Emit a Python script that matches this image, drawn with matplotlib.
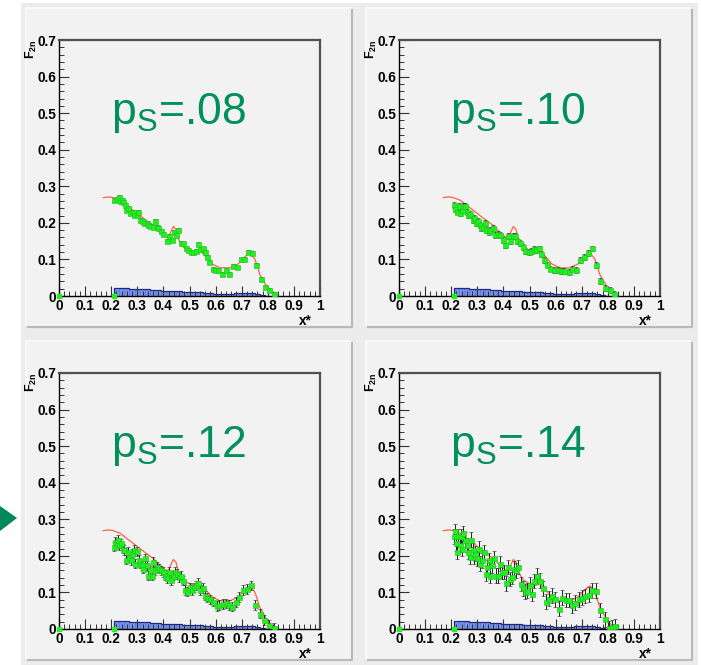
import numpy as np
import matplotlib.pyplot as plt
from matplotlib.patches import Rectangle, Polygon
from matplotlib.ticker import MultipleLocator, FuncFormatter

plt.rcParams['font.family'] = ['Liberation Sans', 'DejaVu Sans']
plt.rcParams['mathtext.fontset'] = 'custom'
plt.rcParams['mathtext.rm'] = 'Liberation Sans'
plt.rcParams['mathtext.bf'] = 'Liberation Sans:bold'
plt.rcParams['mathtext.it'] = 'Liberation Sans:italic'

# Панели: значения p_s
labels = [".08", ".10", ".12", ".14"]

# Модельная кривая (одна для всех панелей)
model_x = [0.17, 0.19, 0.208, 0.234, 0.259, 0.285, 0.31, 0.336, 0.361, 0.387, 0.41, 0.42,
           0.438, 0.448, 0.457, 0.476, 0.502, 0.527, 0.54, 0.56, 0.585, 0.617, 0.655, 0.687,
           0.719, 0.732, 0.751, 0.77, 0.796, 0.821, 0.83]
model_y = [0.269, 0.271, 0.269, 0.262, 0.248, 0.234, 0.22, 0.206, 0.193, 0.174, 0.16, 0.162,
           0.19, 0.183, 0.156, 0.134, 0.123, 0.12, 0.125, 0.109, 0.088, 0.077, 0.077, 0.088,
           0.112, 0.118, 0.1, 0.058, 0.026, 0.005, 0.0]

# Фоновая гистограмма
hist_vals = [0.023, 0.022, 0.021, 0.020, 0.019, 0.019, 0.018, 0.017, 0.016, 0.015,
             0.014, 0.014, 0.013, 0.012, 0.011, 0.010, 0.010, 0.009, 0.007, 0.006,
             0.006, 0.005, 0.006, 0.007, 0.008, 0.008, 0.008, 0.005, 0.002, 0.001]
hist_start, hist_stop = 0.21, 0.81

# Данные, ps=.08
x1 = [0.212, 0.221, 0.23, 0.234, 0.24, 0.246, 0.253, 0.257, 0.266, 0.272, 0.282, 0.289, 0.298,
      0.304, 0.31, 0.317, 0.326, 0.336, 0.342, 0.349, 0.359, 0.368, 0.374, 0.381, 0.391, 0.4,
      0.413, 0.423, 0.432, 0.441, 0.448, 0.457, 0.467, 0.476, 0.485, 0.496, 0.504, 0.515, 0.524,
      0.531, 0.54, 0.55, 0.56, 0.568, 0.576, 0.589, 0.598, 0.61, 0.623, 0.64, 0.651, 0.665,
      0.681, 0.697, 0.709, 0.725, 0.74, 0.755, 0.773, 0.789, 0.806, 0.824]
y1 = [0.263, 0.265, 0.27, 0.259, 0.262, 0.256, 0.25, 0.236, 0.24, 0.227, 0.231, 0.222, 0.224,
      0.231, 0.208, 0.204, 0.199, 0.199, 0.194, 0.192, 0.19, 0.205, 0.19, 0.185, 0.178, 0.17,
      0.151, 0.164, 0.153, 0.176, 0.167, 0.181, 0.146, 0.144, 0.13, 0.126, 0.121, 0.119, 0.123,
      0.142, 0.128, 0.13, 0.121, 0.107, 0.094, 0.075, 0.072, 0.072, 0.061, 0.072, 0.061, 0.082,
      0.078, 0.1, 0.101, 0.121, 0.118, 0.084, 0.046, 0.024, 0.016, 0.005]

# Данные, ps=.10
x2 = [0.21, 0.214, 0.222, 0.228, 0.234, 0.24, 0.247, 0.254, 0.26, 0.266, 0.273, 0.282, 0.288,
      0.296, 0.302, 0.309, 0.314, 0.321, 0.329, 0.334, 0.343, 0.35, 0.36, 0.369, 0.378, 0.388,
      0.398, 0.407, 0.416, 0.424, 0.435, 0.446, 0.452, 0.462, 0.474, 0.484, 0.497, 0.506, 0.516,
      0.526, 0.538, 0.545, 0.554, 0.567, 0.58, 0.595, 0.608, 0.622, 0.634, 0.65, 0.663, 0.68,
      0.695, 0.708, 0.725, 0.74, 0.755, 0.772, 0.789, 0.808, 0.823]
y2 = [0.25, 0.238, 0.231, 0.245, 0.227, 0.236, 0.245, 0.247, 0.231, 0.222, 0.225, 0.208, 0.213,
      0.199, 0.204, 0.194, 0.185, 0.19, 0.199, 0.181, 0.176, 0.181, 0.185, 0.167, 0.17, 0.167,
      0.153, 0.139, 0.165, 0.15, 0.165, 0.164, 0.15, 0.144, 0.133, 0.124, 0.121, 0.124, 0.128,
      0.126, 0.13, 0.114, 0.098, 0.086, 0.075, 0.071, 0.072, 0.069, 0.068, 0.066, 0.075, 0.071,
      0.098, 0.107, 0.117, 0.13, 0.084, 0.041, 0.023, 0.017, 0.006]

# Данные, ps=.12
x3 = [0.211, 0.216, 0.221, 0.227, 0.231, 0.238, 0.244, 0.25, 0.257, 0.263, 0.269, 0.275, 0.281,
      0.287, 0.291, 0.298, 0.305, 0.31, 0.317, 0.323, 0.329, 0.336, 0.341, 0.349, 0.356, 0.361,
      0.368, 0.374, 0.382, 0.39, 0.397, 0.405, 0.413, 0.42, 0.428, 0.436, 0.443, 0.451, 0.458,
      0.467, 0.476, 0.483, 0.492, 0.502, 0.51, 0.517, 0.525, 0.531, 0.54, 0.55, 0.559, 0.568,
      0.579, 0.591, 0.604, 0.614, 0.627, 0.64, 0.653, 0.664, 0.677, 0.691, 0.704, 0.719, 0.736,
      0.752, 0.77, 0.787, 0.805, 0.824]
y3 = [0.225, 0.239, 0.234, 0.244, 0.23, 0.234, 0.22, 0.216, 0.19, 0.211, 0.197, 0.188, 0.206,
      0.216, 0.179, 0.212, 0.188, 0.179, 0.174, 0.165, 0.193, 0.174, 0.146, 0.16, 0.146, 0.183,
      0.16, 0.17, 0.165, 0.16, 0.156, 0.146, 0.14, 0.156, 0.134, 0.146, 0.156, 0.151, 0.142,
      0.146, 0.132, 0.106, 0.102, 0.114, 0.106, 0.114, 0.119, 0.126, 0.107, 0.112, 0.091, 0.086,
      0.081, 0.075, 0.063, 0.066, 0.069, 0.07, 0.066, 0.061, 0.074, 0.088, 0.106, 0.109, 0.119,
      0.066, 0.042, 0.025, 0.012, 0.003]

# Данные, ps=.14
x4 = [0.21, 0.214, 0.218, 0.223, 0.227, 0.232, 0.237, 0.242, 0.247, 0.254, 0.26, 0.265, 0.271,
      0.277, 0.282, 0.287, 0.293, 0.298, 0.305, 0.311, 0.318, 0.324, 0.332, 0.338, 0.344, 0.35,
      0.357, 0.365, 0.373, 0.38, 0.388, 0.396, 0.403, 0.41, 0.417, 0.426, 0.434, 0.442, 0.449,
      0.457, 0.466, 0.474, 0.483, 0.49, 0.501, 0.51, 0.519, 0.529, 0.542, 0.552, 0.562, 0.574,
      0.586, 0.598, 0.612, 0.624, 0.638, 0.65, 0.663, 0.676, 0.689, 0.702, 0.714, 0.727, 0.74,
      0.755, 0.772, 0.789, 0.804, 0.817, 0.826]
y4 = [0.253, 0.267, 0.234, 0.211, 0.253, 0.23, 0.253, 0.22, 0.262, 0.244, 0.23, 0.211, 0.197,
      0.244, 0.216, 0.197, 0.206, 0.193, 0.22, 0.179, 0.188, 0.211, 0.151, 0.169, 0.188, 0.146,
      0.174, 0.193, 0.146, 0.146, 0.179, 0.156, 0.156, 0.125, 0.17, 0.137, 0.142, 0.165, 0.16,
      0.17, 0.123, 0.111, 0.102, 0.105, 0.121, 0.097, 0.131, 0.146, 0.132, 0.111, 0.075, 0.083,
      0.091, 0.081, 0.056, 0.086, 0.079, 0.079, 0.065, 0.072, 0.081, 0.086, 0.09, 0.094, 0.106,
      0.105, 0.052, 0.026, 0.003, 0.005, 0.007]

data_x = [x1, x2, x3, x4]
data_y = [y1, y2, y3, y4]
errs = [0.005, 0.008, 0.013, 0.02]

W, H = 701, 665
fig = plt.figure(figsize=(W / 100, H / 100), dpi=100)


def fbox(x0, y0, x1_, y1_):
    # пиксели -> доли фигуры
    return [x0 / W, 1 - y1_ / H, (x1_ - x0) / W, (y1_ - y0) / H]


# Серый фон холста и четыре площадки
b = fbox(21, 3, 698, 665)
fig.patches.append(Rectangle((b[0], b[1]), b[2], b[3], transform=fig.transFigure,
                             facecolor='#ececec', edgecolor='none', zorder=-5))
pads = [(26, 8), (366, 8), (26, 341), (366, 341)]
for px, py in pads:
    b = fbox(px, py, px + 326, py + 319)
    fig.patches.append(Rectangle((b[0], b[1]), b[2], b[3], transform=fig.transFigure,
                                 facecolor='#f2f2f2', edgecolor='none', zorder=-4))
    fig.lines.append(plt.Line2D([b[0], b[0] + b[2], b[0] + b[2]], [b[1], b[1], b[1] + b[3]],
                                transform=fig.transFigure, color='#b8b8b8', lw=1.5, zorder=-3))
    fig.lines.append(plt.Line2D([b[0], b[0], b[0] + b[2]], [b[1], b[1] + b[3], b[1] + b[3]],
                                transform=fig.transFigure, color='#fbfbfb', lw=1.2, zorder=-3))

# Стрелка слева
fig.patches.append(Polygon([[0 / W, 1 - 506 / H], [17 / W, 1 - 518 / H], [0 / W, 1 - 531 / H]],
                           closed=True, transform=fig.transFigure, facecolor='#00875a',
                           edgecolor='none'))

hist_edges = np.linspace(hist_start, hist_stop, len(hist_vals) + 1)

for i in range(4):
    px, py = pads[i]
    ax = fig.add_axes(fbox(px + 33, py + 32, px + 294, py + 288))
    ax.set_facecolor('#f2f2f2')

    ax.bar(hist_edges[:-1], hist_vals, width=hist_edges[1] - hist_edges[0], align='edge',
           color='#7590ec', edgecolor='#5570d0', linewidth=0.4, zorder=1)
    ax.stairs(hist_vals, hist_edges, color='#1a2a80', lw=0.9, zorder=1.5)

    ax.plot(model_x, model_y, color='#ff6347', lw=0.9, zorder=2)

    ax.errorbar(data_x[i], data_y[i], yerr=errs[i], fmt='s', ms=3.6, mfc='#22ee22',
                mec='#1cc01c', mew=0.4, ecolor='#222222', elinewidth=0.7, capsize=1.2,
                capthick=0.7, zorder=3)
    ax.plot([0, 0.21], [0, 0], 's', ms=3.2, color='#22ee22', zorder=4, clip_on=False)

    ax.set_xlim(0, 1)
    ax.set_ylim(0, 0.7)
    ax.xaxis.set_major_locator(MultipleLocator(0.1))
    ax.xaxis.set_minor_locator(MultipleLocator(0.02))
    ax.yaxis.set_major_locator(MultipleLocator(0.1))
    ax.yaxis.set_minor_locator(MultipleLocator(0.02))
    fmt = FuncFormatter(lambda v, p: f"{round(v, 2):g}")
    ax.xaxis.set_major_formatter(fmt)
    ax.yaxis.set_major_formatter(fmt)
    ax.tick_params(which='both', direction='in', top=False, right=False, color='#333333')
    ax.tick_params(which='major', length=7, width=0.8, labelsize=9.8, pad=2)
    ax.tick_params(which='minor', length=3.5, width=0.7)
    for lab in ax.get_xticklabels() + ax.get_yticklabels():
        lab.set_fontweight('bold')

    for s in ['top', 'right']:
        ax.spines[s].set_color('#505050')
        ax.spines[s].set_linewidth(1.6)
    for s in ['left', 'bottom']:
        ax.spines[s].set_color('black')
        ax.spines[s].set_linewidth(1.0)

    ax.text(0.456, 0.672, r"p$_{\mathrm{S}}$=" + labels[i], transform=ax.transAxes,
            ha='center', va='baseline', fontsize=32, color='#00905a')

    ax.text(-0.105, 1.0, r"F$_{\mathbf{2n}}$", transform=ax.transAxes, rotation=90,
            ha='center', va='top', fontsize=9, fontweight='bold')
    ax.text(0.97, -0.07, "x*", transform=ax.transAxes, ha='right', va='top',
            fontsize=9.8, fontweight='bold')

fig.savefig('out.png', dpi=100, facecolor='white')
